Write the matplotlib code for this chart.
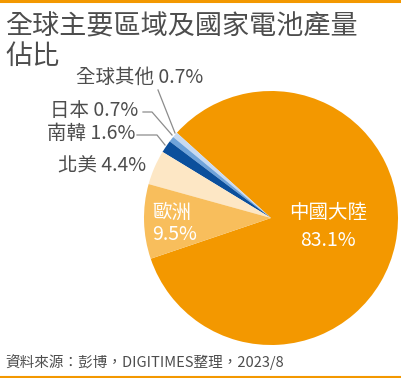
import matplotlib.pyplot as plt
from matplotlib.lines import Line2D

plt.rcParams['font.family'] = ['Noto Sans CJK TC', 'DejaVu Sans']

W, H = 401, 378

regions = ['中國大陸', '全球其他', '日本', '南韓', '北美', '歐洲']
shares = [83.1, 0.7, 0.7, 1.6, 4.4, 9.5]
colors = ['#F39800', '#C8DAF1', '#6FA3DA', '#0B4F9C', '#FDE7C5', '#F8BE5C']

orange = '#F39800'
grey = '#4d4d4d'


def fx(x):
    return x / W


def fy(y):
    return 1 - y / H


fig = plt.figure(figsize=(W / 100, H / 100), dpi=100)

# pie: center (271, 218), r ~127 px
ax = fig.add_axes([fx(144), fy(345), 254 / W, 254 / H])
ax.pie(shares, colors=colors, startangle=198.7, counterclock=True,
       wedgeprops=dict(linewidth=0))
ax.set_xlim(-1, 1)
ax.set_ylim(-1, 1)
ax.set_aspect('equal')
ax.axis('off')

# orange rules top and bottom
fig.add_artist(Line2D([0, 1], [fy(1), fy(1)], color=orange, lw=2.2))
fig.add_artist(Line2D([0, 1], [fy(376.5), fy(376.5)], color=orange, lw=1.5))

# title
fig.text(fx(5), fy(27), '全球主要區域及國家電池產量', fontsize=19.5, color=grey,
         va='center', ha='left')
fig.text(fx(5), fy(56), '佔比', fontsize=19.5, color=grey, va='center', ha='left')

# outside labels
fig.text(fx(203), fy(77), f'{regions[1]} {shares[1]}%', fontsize=14, color=grey,
         ha='right', va='center')
fig.text(fx(138), fy(110), f'{regions[2]} {shares[2]}%', fontsize=14, color=grey,
         ha='right', va='center')
fig.text(fx(135), fy(133), f'{regions[3]} {shares[3]}%', fontsize=14, color=grey,
         ha='right', va='center')
fig.text(fx(146), fy(166), f'{regions[4]} {shares[4]}%', fontsize=14, color=grey,
         ha='right', va='center')

# leader lines
lc = '#8c8c8c'
for xs, ys in [([158, 175], [90, 133]),
               ([143, 152, 172], [112, 112, 135]),
               ([137, 157, 165], [135, 135, 145])]:
    fig.add_artist(Line2D([fx(v) for v in xs], [fy(v) for v in ys], color=lc, lw=0.9))

# inside labels
fig.text(fx(152), fy(212), regions[5], fontsize=14, color='white', ha='left', va='center')
fig.text(fx(152), fy(234), f'{shares[5]}%', fontsize=14, color='white', ha='left', va='center')
fig.text(fx(328), fy(212), regions[0], fontsize=14, color='white', ha='center', va='center')
fig.text(fx(328), fy(240), f'{shares[0]}%', fontsize=14, color='white', ha='center', va='center')

# source
fig.text(fx(5), fy(362), '資料來源：彭博，DIGITIMES整理，2023/8', fontsize=10.5,
         color=grey, ha='left', va='center')

fig.savefig('out.png', dpi=100)
